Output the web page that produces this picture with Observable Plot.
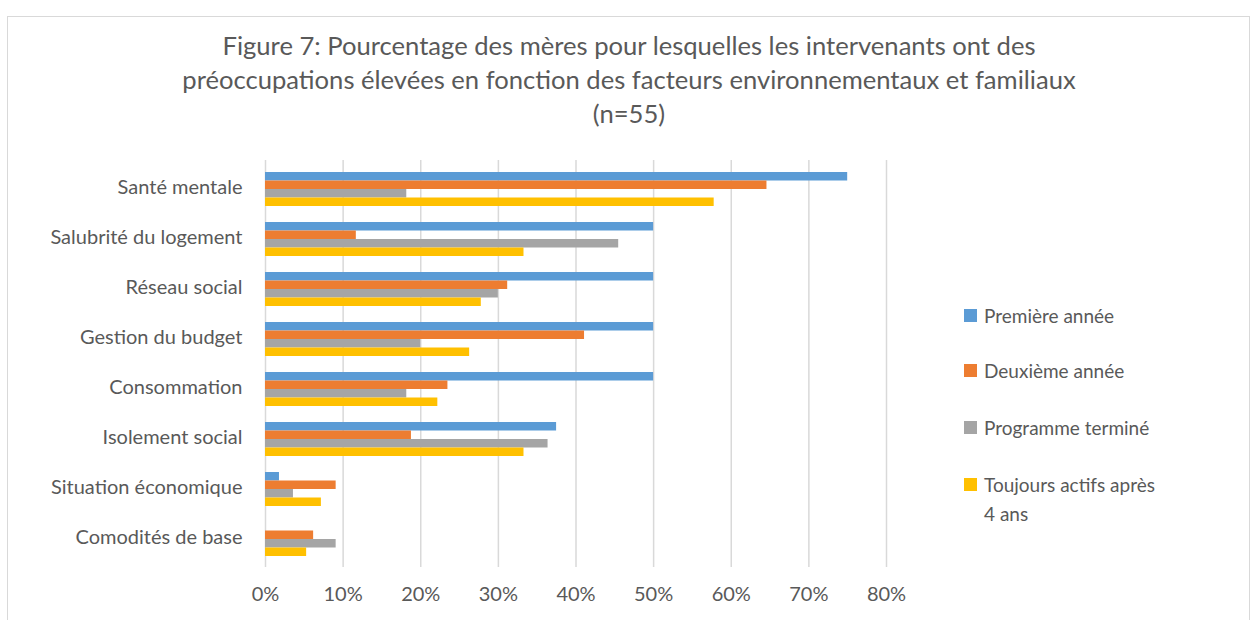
<!DOCTYPE html>
<html>
<head>
<meta charset="utf-8">
<script src="https://cdn.jsdelivr.net/npm/d3@7"></script>
<script src="https://cdn.jsdelivr.net/npm/@observablehq/plot@0.6"></script>
<style>
  html, body { margin: 0; padding: 0; background: #fff; }
  body { width: 1255px; height: 620px; position: relative; overflow: hidden; font-family: Lato, "Open Sans", sans-serif; color: #595959; }
  #frame { position: absolute; left: 7px; top: 16px; width: 1243px; height: 640px; border: 1px solid #d9d9d9; box-sizing: border-box; }
  #title { position: absolute; left: 0; top: 28px; width: 1258px; text-align: center; font-size: 25.6px; line-height: 34px; color: #595959; }
  #chart { position: absolute; left: 0; top: 140px; }
  #legend { position: absolute; left: 964px; top: 0; }
  .li { position: absolute; left: 0; white-space: nowrap; font-size: 19px; line-height: 29px; color: #595959; }
  .sw { position: absolute; left: 0; width: 13px; height: 13px; }
  .lt { position: absolute; left: 20px; top: 0; }
</style>
</head>
<body>
<div id="frame"></div>
<div id="title">Figure 7: Pourcentage des mères pour lesquelles les intervenants ont des<br>préoccupations élevées en fonction des facteurs environnementaux et familiaux<br>(n=55)</div>
<div id="chart"></div>
<div id="legend"></div>
<script>
const categories = ["Santé mentale", "Salubrité du logement", "Réseau social", "Gestion du budget", "Consommation", "Isolement social", "Situation économique", "Comodités de base"];
const series = ["Première année", "Deuxième année", "Programme terminé", "Toujours actifs après 4 ans"];
const colors = ["#5B9BD5", "#ED7D31", "#A5A5A5", "#FFC000"];
const premiere = [75, 50, 50, 50, 50, 37.5, 1.8, 0];
const deuxieme = [64.6, 11.7, 31.2, 41.1, 23.5, 18.8, 9.1, 6.2];
const programme = [18.2, 45.5, 30, 20, 18.2, 36.4, 3.6, 9.1];
const toujours = [57.8, 33.3, 27.8, 26.3, 22.2, 33.3, 7.2, 5.3];
const xTicks = [0, 10, 20, 30, 40, 50, 60, 70, 80];

const values = [premiere, deuxieme, programme, toujours];
const rows = categories.flatMap((c, i) => series.map((s, j) => ({cat: c, ser: s, v: values[j][i]})));

const W = 1255, H = 470, mt = 20, mb = 43, ml = 265, mr = 369;
const pIn = 0.32, pOut = 0.23;
const step = (H - mt - mb) / (categories.length - pIn + 2 * pOut);
const bw = step * (1 - pIn);
const slot = bw / series.length;

const barMarks = series.map((s, j) => Plot.barX(rows.filter(d => d.ser === s), {
  x: "v", y: "cat", fill: colors[j],
  insetTop: j * slot, insetBottom: (series.length - 1 - j) * slot
}));

const chart = Plot.plot({
  width: W, height: H,
  marginTop: mt, marginBottom: mb, marginLeft: ml, marginRight: mr,
  style: {fontFamily: "Lato, 'Open Sans', sans-serif", fontSize: "20px", color: "#595959", background: "transparent"},
  x: {domain: [0, 80]},
  y: {domain: categories, paddingInner: pIn, paddingOuter: pOut},
  marks: [
    Plot.gridX(xTicks, {stroke: "#d9d9d9", strokeOpacity: 1, strokeWidth: 1.5}),
    ...barMarks,
    Plot.axisX({ticks: xTicks, tickSize: 0, tickPadding: 19, tickFormat: d => d + "%", label: null, fill: "#595959"}),
    Plot.axisY({tickSize: 0, tickPadding: 23, dy: -2, label: null, fill: "#595959"})
  ]
});
document.getElementById("chart").appendChild(chart);

const legendTops = [301, 356, 413, 470];
const legend = document.getElementById("legend");
series.forEach((s, j) => {
  const li = document.createElement("div");
  li.className = "li";
  li.style.top = legendTops[j] + "px";
  const sw = document.createElement("div");
  sw.className = "sw";
  sw.style.background = colors[j];
  sw.style.top = "8px";
  const lt = document.createElement("div");
  lt.className = "lt";
  lt.innerHTML = j === 3 ? "Toujours actifs après<br>4 ans" : s;
  li.appendChild(sw); li.appendChild(lt);
  legend.appendChild(li);
});
</script>
</body>
</html>
